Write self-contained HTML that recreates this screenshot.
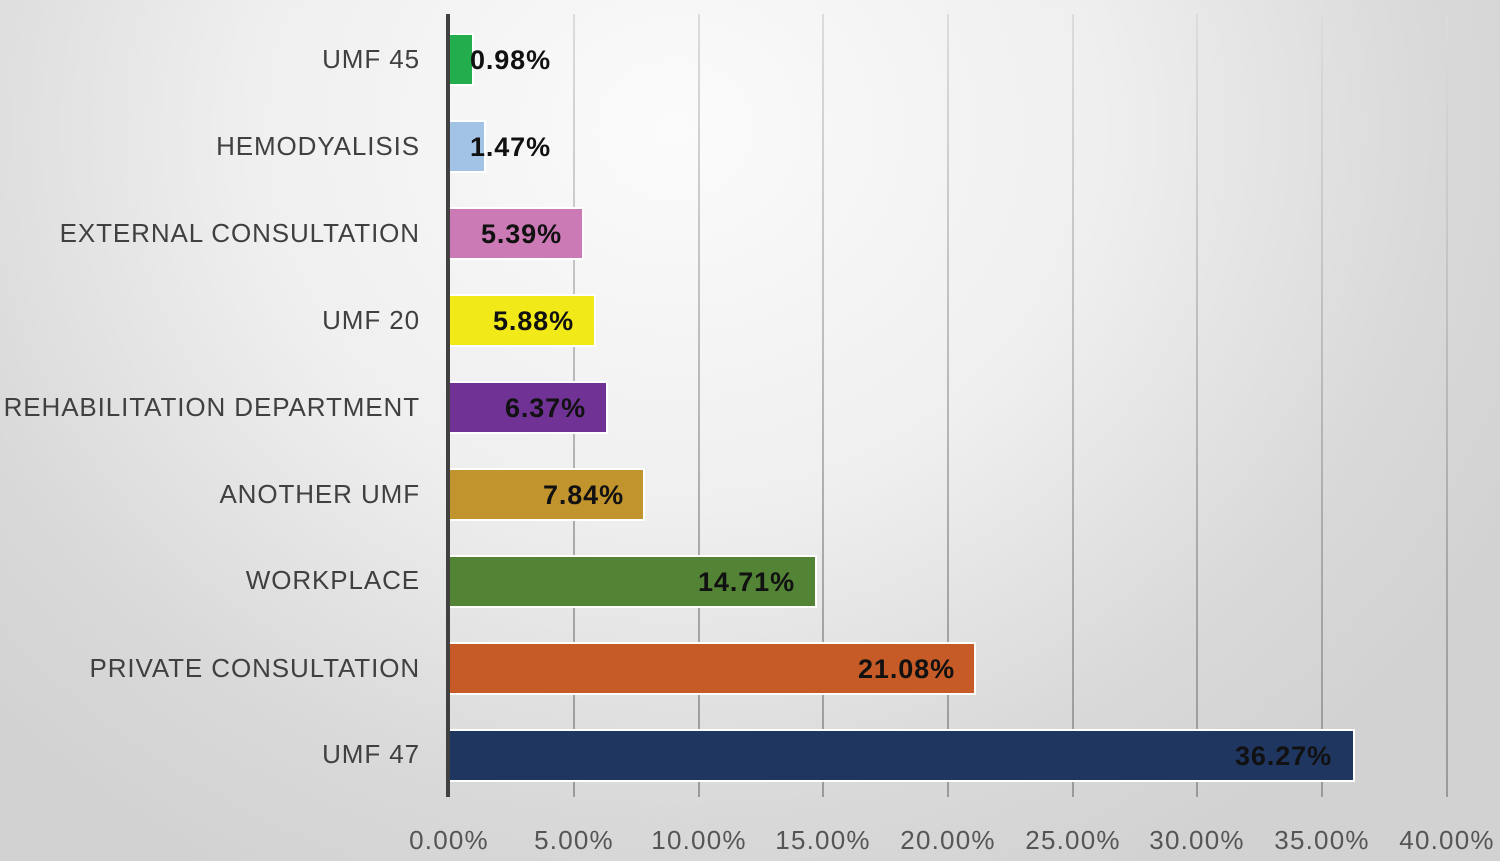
<!DOCTYPE html>
<html><head><meta charset="utf-8"><style>
html,body{margin:0;padding:0}
body{width:1500px;height:861px;position:relative;overflow:hidden;font-family:"Liberation Sans","DejaVu Sans",sans-serif;
background:radial-gradient(ellipse 950px 850px at 45% 15%,#fbfbfb 0%,#efefef 45%,#d9d9d9 80%,#d2d2d2 100%);}
.g{position:absolute;top:14px;height:783px;width:2px;background:linear-gradient(#dcdcdc,#a8a8a8 70%,#9a9a9a)}
.ax{position:absolute;left:446px;top:14px;width:4px;height:783px;background:#404040}
.bar{position:absolute;left:450px;height:49px;border:2px solid #fff;border-left:none;box-sizing:content-box}
.lab{position:absolute;right:1080px;font-size:26px;color:#404040;white-space:nowrap;line-height:30px;letter-spacing:0.9px}
.val{position:absolute;font-size:27px;font-weight:bold;color:#111;white-space:nowrap;line-height:30px;text-align:right;width:200px;letter-spacing:0.9px}
.t{position:absolute;top:825px;font-size:26px;color:#555;width:140px;text-align:center;line-height:30px;letter-spacing:1.2px}
</style></head><body>
<div class="g" style="left:573px"></div><div class="g" style="left:698px"></div><div class="g" style="left:822px"></div>
<div class="g" style="left:947px"></div><div class="g" style="left:1072px"></div><div class="g" style="left:1196px"></div>
<div class="g" style="left:1321px"></div><div class="g" style="left:1446px"></div>

<div class="bar" style="top:33px;width:22px;background:#23ad4c"></div>
<div class="bar" style="top:120px;width:34px;background:#a3c3e6"></div>
<div class="bar" style="top:207px;width:132px;background:#cc7ab5"></div>
<div class="bar" style="top:294px;width:144px;background:#f2ea18"></div>
<div class="bar" style="top:381px;width:156px;background:#703395"></div>
<div class="bar" style="top:468px;width:193px;background:#c1942d"></div>
<div class="bar" style="top:555px;width:365px;background:#538335"></div>
<div class="bar" style="top:642px;width:524px;background:#c65b27"></div>
<div class="bar" style="top:729px;width:903px;background:#1f3660"></div>

<div class="ax"></div>

<div class="lab" style="top:44px">UMF 45</div>
<div class="lab" style="top:131px">HEMODYALISIS</div>
<div class="lab" style="top:218px">EXTERNAL CONSULTATION</div>
<div class="lab" style="top:305px">UMF 20</div>
<div class="lab" style="top:392px">REHABILITATION DEPARTMENT</div>
<div class="lab" style="top:479px">ANOTHER UMF</div>
<div class="lab" style="top:565px">WORKPLACE</div>
<div class="lab" style="top:653px">PRIVATE CONSULTATION</div>
<div class="lab" style="top:739px">UMF 47</div>

<div class="val" style="top:45px;left:351px">0.98%</div>
<div class="val" style="top:132px;left:351px">1.47%</div>
<div class="val" style="top:219px;left:362px">5.39%</div>
<div class="val" style="top:306px;left:374px">5.88%</div>
<div class="val" style="top:393px;left:386px">6.37%</div>
<div class="val" style="top:480px;left:424px">7.84%</div>
<div class="val" style="top:567px;left:595px">14.71%</div>
<div class="val" style="top:654px;left:755px">21.08%</div>
<div class="val" style="top:741px;left:1132px">36.27%</div>

<div class="t" style="left:379px">0.00%</div>
<div class="t" style="left:504px">5.00%</div>
<div class="t" style="left:629px">10.00%</div>
<div class="t" style="left:753px">15.00%</div>
<div class="t" style="left:878px">20.00%</div>
<div class="t" style="left:1003px">25.00%</div>
<div class="t" style="left:1127px">30.00%</div>
<div class="t" style="left:1252px">35.00%</div>
<div class="t" style="left:1377px">40.00%</div>
</body></html>
